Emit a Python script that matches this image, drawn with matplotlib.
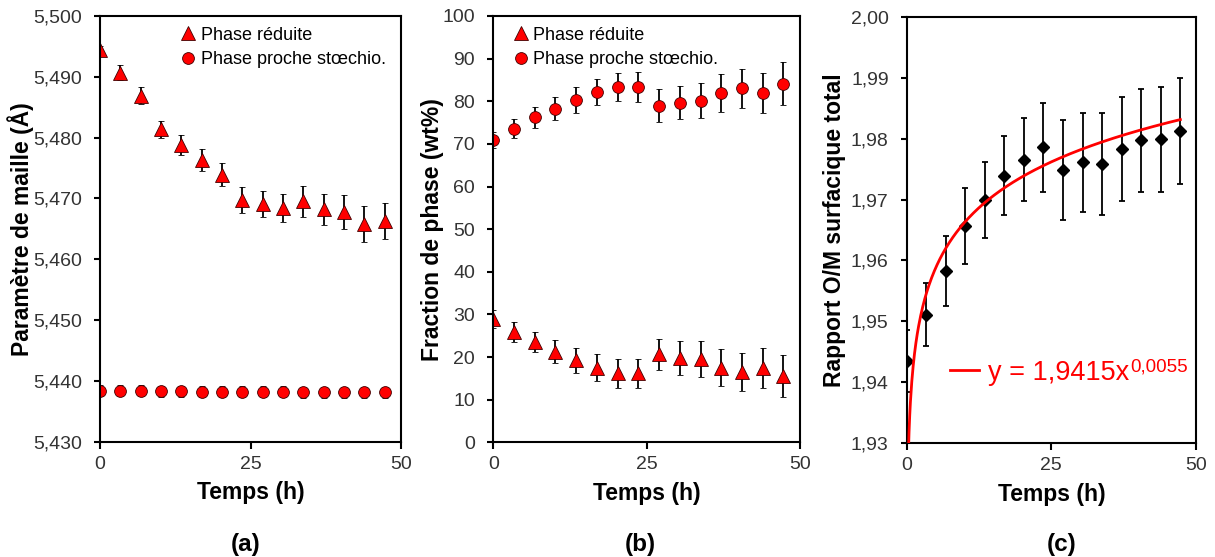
import numpy as np
import matplotlib
matplotlib.use("Agg")
import matplotlib.pyplot as plt
from matplotlib.ticker import FuncFormatter

plt.rcParams['font.family'] = ['Liberation Sans', 'DejaVu Sans']

# temps de mesure (h)
temps = [0, 3.4, 6.8, 10.1, 13.5, 16.9, 20.3, 23.6, 27.0, 30.4, 33.8, 37.2, 40.5, 43.9, 47.3]

# (a) parametre de maille (A)
maille_reduite = [5.4944, 5.4907, 5.4869, 5.4814, 5.4788, 5.4763, 5.4739, 5.4697,
                  5.4691, 5.4685, 5.4695, 5.4682, 5.4678, 5.4658, 5.4663]
maille_reduite_err = [0.0006, 0.0012, 0.0014, 0.0014, 0.0016, 0.0018, 0.0019, 0.0021,
                      0.0022, 0.0023, 0.0025, 0.0026, 0.0028, 0.0029, 0.0030]
maille_stoechio = [5.4384, 5.4384, 5.4384, 5.4383, 5.4383, 5.4382, 5.4382, 5.4382,
                   5.4382, 5.4382, 5.4381, 5.4381, 5.4381, 5.4381, 5.4381]
maille_stoechio_err = [0.0009] * 15

# (b) fraction de phase (wt%)
frac_reduite = [28.9, 25.9, 23.5, 21.2, 19.2, 17.5, 16.2, 16.2, 20.6, 19.8, 19.5, 17.5, 16.5, 17.5, 15.6]
frac_reduite_err = [2.1, 2.3, 2.4, 2.7, 2.9, 3.1, 3.4, 3.45, 3.6, 4.0, 4.2, 4.3, 4.5, 4.7, 4.9]
frac_stoechio = [70.9, 73.6, 76.2, 78.3, 80.3, 82.2, 83.3, 83.3, 79.0, 79.7, 80.1, 81.9, 83.0, 82.0, 84.1]
frac_stoechio_err = [1.9, 2.2, 2.4, 2.6, 3.0, 3.05, 3.3, 3.5, 3.8, 3.95, 4.1, 4.4, 4.6, 4.7, 5.0]

# (c) rapport O/M surfacique total
om = [1.9435, 1.9511, 1.9583, 1.9657, 1.9699, 1.9739, 1.9765, 1.9786,
      1.9748, 1.9761, 1.9758, 1.9783, 1.9797, 1.9799, 1.9813]
om_err = [0.0051, 0.0052, 0.0057, 0.0062, 0.0062, 0.0065, 0.0068, 0.0073,
          0.0082, 0.0081, 0.0084, 0.0085, 0.0084, 0.0086, 0.0087]
fit_a, fit_b = 1.9415, 0.0055

RED = '#FF0000'
TICK_COLOR = '#333333'
TICK_SIZE = 14
LABEL_SIZE = 16.5

fig = plt.figure(figsize=(12.15, 5.57), dpi=100)
W, H = 1215, 557


def make_ax(left, right, top, bottom):
    return fig.add_axes([left / W, 1 - bottom / H, (right - left) / W, (bottom - top) / H])


def style(ax, ylim, step, fmt, ylabel, ylab_x):
    ax.set_xlim(0, 50)
    ax.set_ylim(*ylim)
    ax.set_xticks([0, 25, 50])
    ax.set_yticks(np.arange(ylim[0], ylim[1] + step / 2, step))
    ax.yaxis.set_major_formatter(FuncFormatter(lambda v, p: fmt.format(v).replace('.', ',')))
    for s in ax.spines.values():
        s.set_linewidth(1.5)
        s.set_color('black')
    ax.tick_params(axis='y', direction='out', length=4, width=1.5, pad=9,
                   labelsize=TICK_SIZE, labelcolor=TICK_COLOR)
    ax.tick_params(axis='x', direction='out', length=5, width=1.5, pad=5,
                   labelsize=TICK_SIZE, labelcolor=TICK_COLOR)
    ax.set_xlabel('Temps (h)', fontsize=LABEL_SIZE, fontweight='bold')
    ax.xaxis.set_label_coords(0.5, -0.092)
    ax.set_ylabel(ylabel, fontsize=LABEL_SIZE, fontweight='bold')
    ax.yaxis.set_label_coords(ylab_x, 0.5)


eb_kw = dict(ecolor='black', elinewidth=1.3, capsize=2.5, capthick=1.3, linestyle='none',
             markeredgecolor='#400000', markeredgewidth=0.6)

# (a)
ax1 = make_ax(100, 401, 16, 441.7)
ax1.errorbar(temps, maille_reduite, yerr=maille_reduite_err, marker='^', ms=10,
             color=RED, label='Phase réduite', **eb_kw)
ax1.errorbar(temps, maille_stoechio, yerr=maille_stoechio_err, marker='o', ms=8.5,
             color=RED, label='Phase proche stœchio.', **eb_kw)
style(ax1, (5.43, 5.50), 0.01, '{:.3f}', 'Paramètre de maille (Å)', -0.22)

# (b)
ax2 = make_ax(493.3, 800, 16, 442.3)
ax2.errorbar(temps, frac_reduite, yerr=frac_reduite_err, marker='^', ms=10,
             color=RED, label='Phase réduite', **eb_kw)
ax2.errorbar(temps, frac_stoechio, yerr=frac_stoechio_err, marker='o', ms=8.5,
             color=RED, label='Phase proche stœchio.', **eb_kw)
style(ax2, (0, 100), 10, '{:.0f}', 'Fraction de phase (wt%)', -0.16)

for ax, lx in ((ax1, 0.262), (ax2, 0.06)):
    handles, labels = ax.get_legend_handles_labels()
    handles = [h[0] for h in handles]
    ax.legend(handles, labels, loc='upper left', bbox_to_anchor=(lx, 0.975), frameon=False,
              fontsize=13, handlelength=1.0, handletextpad=0.2, labelspacing=0.42,
              borderpad=0, borderaxespad=0)

# (c)
ax3 = make_ax(906.7, 1196, 16.7, 443.3)
ax3.errorbar(temps, om, yerr=om_err, marker='D', ms=6.5, color='black',
             ecolor='black', elinewidth=1.3, capsize=2.5, capthick=1.3, linestyle='none', zorder=2)
t_fit = np.linspace(0.05, temps[-1], 400)
fit_line, = ax3.plot(t_fit, fit_a * t_fit ** fit_b, color=RED, lw=2, zorder=3)
style(ax3, (1.93, 2.00), 0.01, '{:.2f}', 'Rapport O/M surfacique total', -0.21)
leg = ax3.legend([fit_line], ['y = 1,9415x'], loc='center left', bbox_to_anchor=(0.15, 0.165),
                 frameon=False, fontsize=19.5, handlelength=1.05, handletextpad=0.35,
                 borderpad=0, borderaxespad=0, labelcolor=RED)
leg.set_zorder(5)
ax3.annotate('0,0055', xy=(1.0, 1.04), xycoords=leg.get_texts()[0], xytext=(1, 0),
             textcoords='offset points', ha='left', va='top', fontsize=13.5, color=RED, zorder=10)

for label, x in (('(a)', 246), ('(b)', 640), ('(c)', 1062)):
    fig.text(x / W, 1 - 544 / H, label, ha='center', va='center', fontsize=17.5, fontweight='bold')

fig.savefig('out.png', dpi=100)
